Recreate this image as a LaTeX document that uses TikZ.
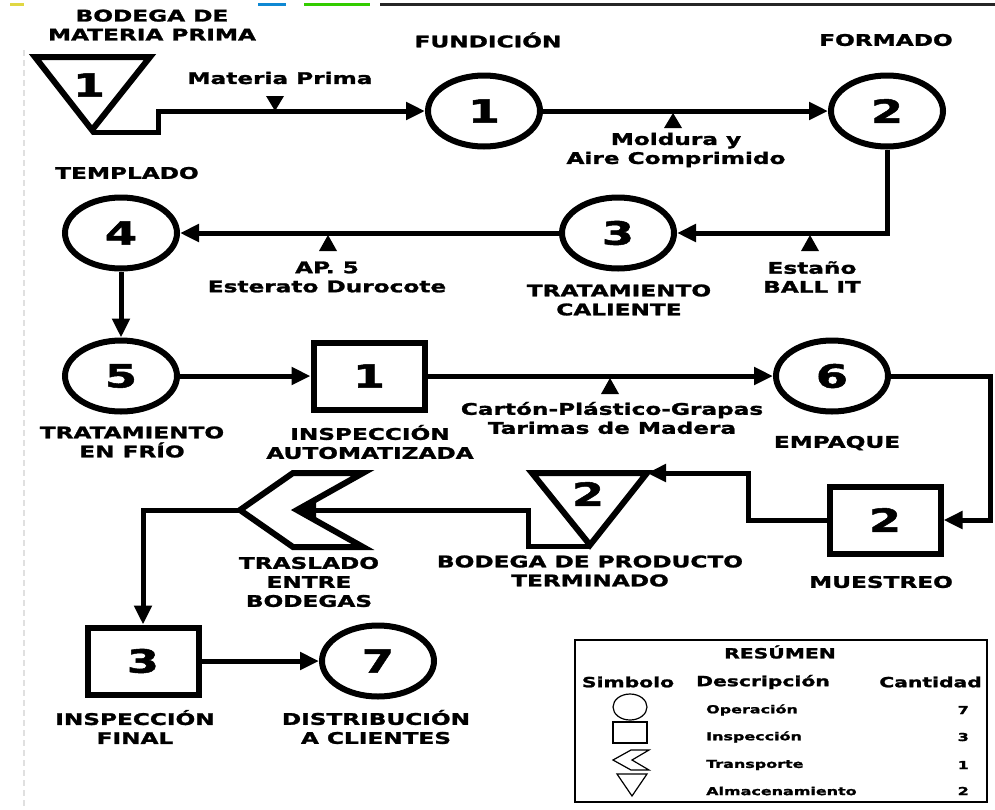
\documentclass[tikz,border=0pt]{standalone}
\usepackage{fontspec}
\newfontfamily\lab{DejaVu Sans}[FakeStretch=1.45,BoldFeatures={FakeBold=1.6}]
\usetikzlibrary{shapes.geometric,arrows.meta}
\begin{document}
\begin{tikzpicture}[x=1pt,y=-1pt,
  lab/.style={font=\lab\bfseries\fontsize{16}{19}\selectfont,align=center,inner sep=1pt},
  leg/.style={font=\lab\bfseries\fontsize{14}{16}\selectfont,inner sep=1pt},
  legrow/.style={font=\lab\bfseries\fontsize{11}{12}\selectfont,inner sep=1pt},
  numf/.style={font=\lab\bfseries\fontsize{32}{32}\selectfont,inner sep=0pt},
  op/.style={ellipse,draw,line width=6pt,minimum width=112pt,minimum height=71pt,inner sep=0pt,numf},
  insp/.style={rectangle,draw,line width=6pt,minimum width=111pt,minimum height=67pt,inner sep=0pt,numf},
  shapeline/.style={line width=6pt,line join=miter},
  flow/.style={line width=5pt,-{Triangle[length=19pt,width=17pt]}},
  conn/.style={line width=5pt}
]
\useasboundingbox (0,0) rectangle (995,809);
% top artifacts
\draw[line width=3pt,yellow!60!olive!70] (10,4) -- (24,4);
\draw[line width=3pt,cyan!70!blue] (258,4) -- (286,4);
\draw[line width=3pt,green!60!olive] (304,4) -- (370,4);
\draw[line width=3pt,black!85] (380,4) -- (995,4);
\draw[black!12,line width=2pt,dash pattern=on 6pt off 4pt] (24,50) -- (24,809);

% storage 1
\draw[shapeline] (35,57) -- (150,57) -- (92,130) -- cycle;
\coordinate (t1) at (92,132);
\node[numf] (n1) at (89,85) {1};
\node[lab] (lbod1) at (152,25) {BODEGA DE\\MATERIA PRIMA};

% operations
\node[op] (c1) at (484,111) {1};
\node[op] (c2) at (887,111) {2};
\node[op] (c3) at (618,233) {3};
\node[op] (c4) at (121,233) {4};
\node[op] (c5) at (121,376) {5};
\node[insp] (s1) at (369,376) {1};
\node[op] (c6) at (832,376) {6};
\node[insp] (s2) at (885,520) {2};
\node[insp] (s3) at (143,661) {3};
\node[op] (c7) at (378,661) {7};

% storage 2
\draw[shapeline] (532,473) -- (647,473) -- (590,545) -- cycle;
\coordinate (t2r) at (647,473);
\coordinate (t2) at (590,546);
\node[numf] (n2) at (588,494) {2};

% transport chevron
\draw[shapeline] (293,473) -- (363,473) -- (297,510) -- (363,547) -- (293,547) -- (240,510) -- cycle;
\coordinate (chn) at (297,510);
\coordinate (cht) at (240,510);

% labels
\node[lab] (lfun) at (488,40) {FUNDICIÓN};
\node[lab] (lfor) at (886,40) {FORMADO};
\node[lab] (lmp) at (280,78) {Materia Prima};
\node[lab] (lmol) at (676,150) {Moldura y\\Aire Comprimido};
\node[lab] (ltem) at (127,173) {TEMPLADO};
\node[lab] (lap) at (327,277) {AP. 5\\Esterato Durocote};
\node[lab] (lest) at (812,277) {Estaño\\BALL IT};
\node[lab] (ltc) at (619,300) {TRATAMIENTO\\CALIENTE};
\node[lab] (ltf) at (132,442) {TRATAMIENTO\\EN FRÍO};
\node[lab] (lia) at (370,442) {INSPECCIÓN\\AUTOMATIZADA};
\node[lab] (lcar) at (612,418) {Cartón-Plástico-Grapas\\Tarimas de Madera};
\node[lab] (lemp) at (837,443) {EMPAQUE};
\node[lab] (ltra) at (309,582) {TRASLADO\\ENTRE\\BODEGAS};
\node[lab] (lbpt) at (590,571) {BODEGA DE PRODUCTO\\TERMINADO};
\node[lab] (lmue) at (881,582) {MUESTREO};
\node[lab] (lif) at (135,727) {INSPECCIÓN\\FINAL};
\node[lab] (ldis) at (376,727) {DISTRIBUCIÓN\\A CLIENTES};

% connectors
\draw[flow] (t1) -- (158,132) -- (158,111) -- (c1.west);
\draw[flow] (c1.east) -- (c2.west);
\draw[flow] (c2.south) -- (c2.south |- c3.east) -- (c3.east);
\draw[flow] (c3.west) -- (c4.east);
\draw[flow] (c4.south) -- (c5.north);
\draw[flow] (c5.east) -- (s1.west);
\draw[flow] (s1.east) -- (c6.west);
\draw[flow] (c6.east) -- (990,376) -- (990,520) -- (s2.east);
\draw[flow] (s2.west) -- (748,520) -- (748,473) -- (t2r);
\draw[flow] (t2) -- (528,546) -- (528,510) -- (chn);
\draw[flow] (cht) -- (s3.north |- cht) -- (s3.north);
\draw[flow] (s3.east) -- (c7.west);

% input markers
\fill (266,96) -- (284,96) -- (275,111) -- cycle;
\fill (664,128) -- (682,128) -- (673,113) -- cycle;
\fill (319,251) -- (337,251) -- (328,235) -- cycle;
\fill (801,251) -- (819,251) -- (810,235) -- cycle;
\fill (601,394) -- (619,394) -- (610,378) -- cycle;

% legend
\draw[line width=1.5pt] (575,640) rectangle (987,802);
\node[leg] (lres) at (780,652) {RESÚMEN};
\node[leg] (lsim) at (628,682) {Simbolo};
\node[leg] (ldes) at (763,682) {Descripción};
\node[leg,anchor=east] (lcan) at (983,682) {Cantidad};
\draw[line width=1.2pt] (630,707) ellipse [x radius=17, y radius=13];
\draw[line width=1.2pt] (613,722) rectangle (647,743);
\draw[line width=1.2pt] (631,750) -- (649,750) -- (632,760) -- (649,770) -- (631,770) -- (613,760) -- cycle;
\draw[line width=1.2pt] (617,774) -- (647,774) -- (632,796) -- cycle;
\node[legrow,anchor=west] (r1) at (705,710) {Operación};
\node[legrow,anchor=west] (r2) at (705,737) {Inspección};
\node[legrow,anchor=west] (r3) at (705,765) {Transporte};
\node[legrow,anchor=west] (r4) at (705,791) {Almacenamiento};
\node[legrow,anchor=east] (q1) at (970,710) {7};
\node[legrow,anchor=east] (q2) at (970,737) {3};
\node[legrow,anchor=east] (q3) at (970,765) {1};
\node[legrow,anchor=east] (q4) at (970,791) {2};
\end{tikzpicture}
\end{document}
